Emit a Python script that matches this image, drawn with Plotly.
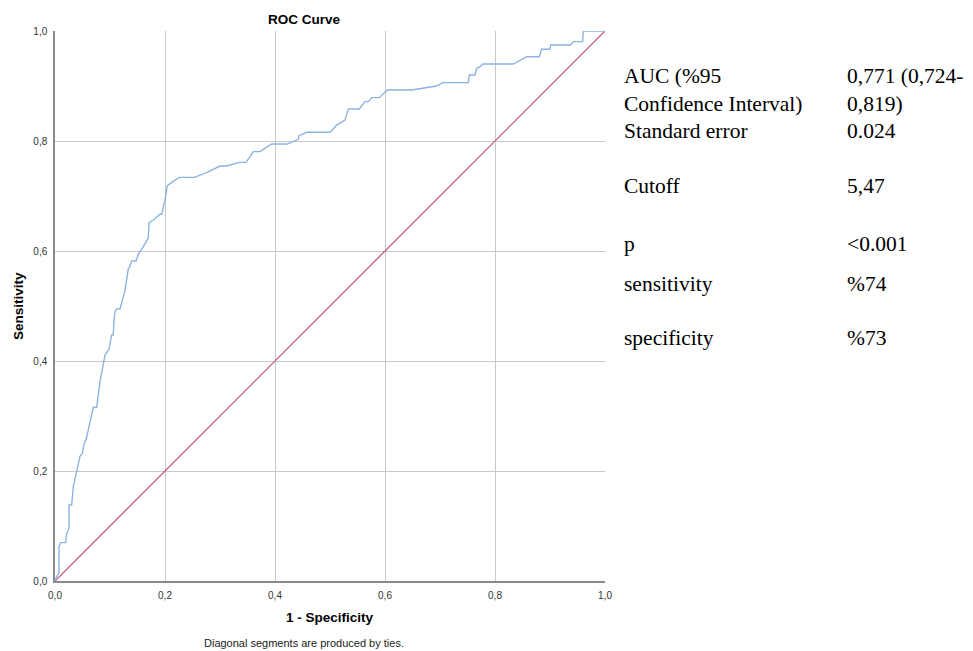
import plotly.graph_objects as go

# ROC curve points (1 - specificity, sensitivity)
fpr = [0.0, 0.003, 0.0073, 0.0073, 0.0103, 0.0194, 0.0212, 0.0242, 0.0255, 0.0255,
       0.0303, 0.0333, 0.0364, 0.0394, 0.0424, 0.0455, 0.0497, 0.0533, 0.0564, 0.0606,
       0.0697, 0.0758, 0.0818, 0.0909, 0.0982, 0.103, 0.106, 0.1073, 0.1091, 0.1121,
       0.1182, 0.1273, 0.1333, 0.1352, 0.1394, 0.1473, 0.1515, 0.1606, 0.1697, 0.1709,
       0.1788, 0.1909, 0.1939, 0.2, 0.2042, 0.2121, 0.2261, 0.2533, 0.2758, 0.3,
       0.3121, 0.3352, 0.3473, 0.3606, 0.3727, 0.3939, 0.4224, 0.4424, 0.4436, 0.4576,
       0.5, 0.5121, 0.5273, 0.5333, 0.5533, 0.5636, 0.5697, 0.5758, 0.5897, 0.6042,
       0.6485, 0.6939, 0.7048, 0.7515, 0.7533, 0.7636, 0.7667, 0.7727, 0.7776, 0.8333,
       0.8576, 0.8806, 0.8848, 0.9, 0.9012, 0.9376, 0.9424, 0.9594, 0.9606, 1.0]
tpr = [0.0, 0.008, 0.015, 0.0624, 0.0697, 0.0697, 0.0867, 0.0958, 0.0958, 0.1382,
       0.1382, 0.1715, 0.1848, 0.2006, 0.2079, 0.2273, 0.2321, 0.2515, 0.2564, 0.2745,
       0.3158, 0.3158, 0.3624, 0.4109, 0.4212, 0.4473, 0.4473, 0.4745, 0.4897, 0.4945,
       0.4945, 0.5291, 0.5685, 0.5697, 0.5818, 0.5818, 0.5945, 0.6079, 0.6242, 0.6515,
       0.6564, 0.6667, 0.6667, 0.6927, 0.7188, 0.7248, 0.7339, 0.7339, 0.7424, 0.7545,
       0.7545, 0.7612, 0.7612, 0.7806, 0.7806, 0.7945, 0.7945, 0.803, 0.8097, 0.8158,
       0.8158, 0.8288, 0.8382, 0.8582, 0.8582, 0.8715, 0.8715, 0.8788, 0.8788, 0.8927,
       0.8927, 0.9, 0.9061, 0.9061, 0.92, 0.92, 0.9321, 0.9352, 0.94, 0.94,
       0.9533, 0.9533, 0.9667, 0.9667, 0.9745, 0.9745, 0.9806, 0.9806, 1.0, 1.0]

ref_x = [0.0, 1.0]
ref_y = [0.0, 1.0]

tick_vals = [0.0, 0.2, 0.4, 0.6, 0.8, 1.0]

stat_labels = ["AUC (%95", "Confidence Interval)", "Standard error", "Cutoff",
               "p", "sensitivity", "specificity"]
stat_values = ["0,771 (0,724-", "0,819)", "0.024", "5,47", "<0.001", "%74", "%73"]
stat_rows_px = [76, 103.5, 131, 186, 244, 283.5, 338]

L, R, T, B = 55, 368, 31, 70
W, H = 973, 651
PW, PH = W - L - R, H - T - B

def px_to_paper(xp, yp):
    return (xp - L) / PW, (H - B - yp) / PH

fig = go.Figure()
fig.add_trace(go.Scatter(x=ref_x, y=ref_y, mode="lines",
                         line=dict(color="#c24b6e", width=1.2), hoverinfo="skip"))
fig.add_trace(go.Scatter(x=fpr, y=tpr, mode="lines",
                         line=dict(color="#8fb3e0", width=1.4)))

axis_common = dict(range=[0, 1], tickvals=tick_vals, tickformat=".1f",
                   showgrid=True, gridcolor="#c8c8c8", gridwidth=1,
                   zeroline=False, showline=True, linecolor="#8a8a8a", linewidth=1.5,
                   ticks="", tickfont=dict(family="Liberation Sans", size=10, color="#333333"),
                   fixedrange=True)
fig.update_xaxes(**axis_common, ticklabelstandoff=4)
fig.update_yaxes(**axis_common, ticklabelstandoff=4)

ann = []
def add_text(xp, yp, text, size, family="Liberation Sans", bold=False, xanchor="center",
             textangle=0, color="#000000"):
    xx, yy = px_to_paper(xp, yp)
    ann.append(dict(x=xx, y=yy, xref="paper", yref="paper", showarrow=False,
                    text=f"<b>{text}</b>" if bold else text, xanchor=xanchor, yanchor="middle",
                    textangle=textangle,
                    font=dict(family=family, size=size, color=color)))

add_text(304, 20, "ROC Curve", 13.5, bold=True)
add_text(330, 617, "1 - Specificity", 13.5, bold=True)
add_text(18, 306, "Sensitivity", 13.5, bold=True, textangle=-90)
add_text(304, 643, "Diagonal segments are produced by ties.", 11, color="#222222")

for lab, val, yp in zip(stat_labels, stat_values, stat_rows_px):
    add_text(622, yp, lab, 21.5, family="Liberation Serif", xanchor="left")
    add_text(845, yp, val, 21.5, family="Liberation Serif", xanchor="left")

fig.update_layout(width=W, height=H, margin=dict(l=L, r=R, t=T, b=B),
                  paper_bgcolor="white", plot_bgcolor="white", showlegend=False,
                  separators=", ", annotations=ann)

fig.write_html("out.html", config={"displayModeBar": False},
               post_script="document.body.style.margin='0';document.body.style.overflow='hidden';")
